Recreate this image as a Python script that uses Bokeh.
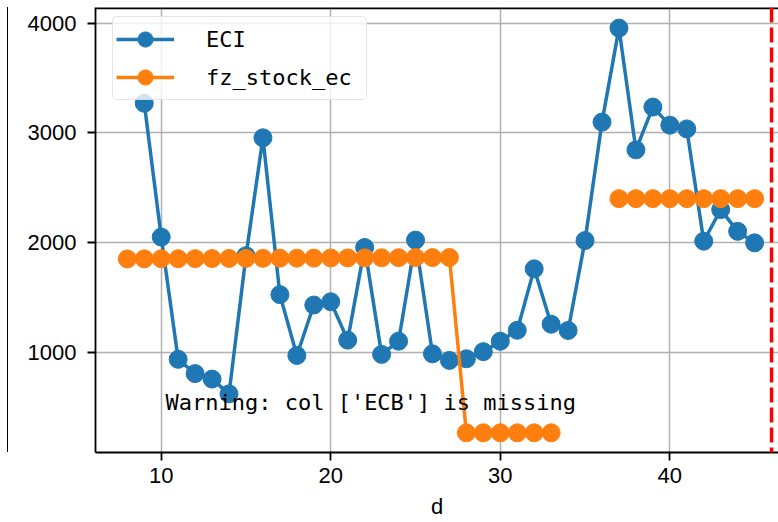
import math
from bokeh.plotting import figure
from bokeh.models import Span, Label, Div, FixedTicker, Legend
from bokeh.layouts import row
from bokeh.embed import file_html
from bokeh.resources import INLINE

# ---- data ----
eci_d = list(range(9, 46))
eci_vals = [3270, 2050, 935, 805, 755, 620, 1880, 2955, 1525, 970,
            1430, 1460, 1110, 1955, 980, 1100, 2022, 985, 925, 940,
            1005, 1100, 1200, 1760, 1255, 1198, 2018, 3098, 3955, 2845,
            3235, 3070, 3036, 2012, 2300, 2102, 1997]
fz_d = list(range(8, 46))
fz_vals = [1850, 1851, 1852, 1852, 1853, 1854, 1855, 1855, 1856, 1857,
           1857, 1858, 1859, 1860, 1860, 1861, 1862, 1863, 1863, 1864,
           265, 265, 265, 265, 265, 265,
           float("nan"), float("nan"), float("nan"),
           2400, 2400, 2400, 2400, 2400, 2400, 2400, 2400, 2400]
x_ticks = [10, 20, 30, 40]
y_ticks = [1000, 2000, 3000, 4000]
red_line_d = 46
warning_text = "Warning: col ['ECB'] is missing"
warning_pos = (10.25, 545)

BLUE = "#1f77b4"
ORANGE = "#ff7f0e"
MONO = "DejaVu Sans Mono"
SANS = "Liberation Sans"

Y_END = 4143

p = figure(width=770, height=522, output_backend="svg", toolbar_location=None,
           x_range=(6.124, 46.41), y_range=(85.4, Y_END),
           min_border_left=87, min_border_right=0, min_border_top=7,
           min_border_bottom=70)
p.outline_line_color = None
p.background_fill_color = "white"
p.border_fill_color = "white"

# grid
for g in (p.xgrid, p.ygrid):
    g.grid_line_color = "#b0b0b0"
    g.grid_line_width = 1.5

# axes
p.xaxis.ticker = FixedTicker(ticks=x_ticks)
p.yaxis.ticker = FixedTicker(ticks=y_ticks)
for ax in (p.xaxis, p.yaxis):
    ax.axis_line_color = "black"
    ax.axis_line_width = 1.8
    ax.major_tick_line_color = "black"
    ax.major_tick_line_width = 1.8
    ax.major_tick_out = 8
    ax.major_tick_in = 0
    ax.minor_tick_line_color = None
    ax.major_label_text_font = SANS
    ax.major_label_text_font_size = "22px"
    ax.major_label_text_color = "black"
p.xaxis.major_label_standoff = 7
p.yaxis.major_label_standoff = 11
p.xaxis.axis_label = "d"
p.xaxis.axis_label_text_font = SANS
p.xaxis.axis_label_text_font_size = "22px"
p.xaxis.axis_label_text_font_style = "normal"
p.xaxis.axis_label_text_color = "black"
p.xaxis.axis_label_standoff = 8

# top spine
p.add_layout(Span(location=Y_END, dimension="width", line_color="black", line_width=3.6))

# series
l1 = p.line(eci_d, eci_vals, line_color=BLUE, line_width=3.5)
s1 = p.scatter(eci_d, eci_vals, size=18, fill_color=BLUE, line_color=BLUE)
l2 = p.line(fz_d, fz_vals, line_color=ORANGE, line_width=3.5)
s2 = p.scatter(fz_d, fz_vals, size=18, fill_color=ORANGE, line_color=ORANGE)

# red dashed vertical line
p.add_layout(Span(location=red_line_d, dimension="height", line_color="red",
                  line_width=3.5, line_dash="15 5"))

# warning text
p.add_layout(Label(x=warning_pos[0], y=warning_pos[1], text=warning_text,
                   text_font=MONO, text_font_size="22px", text_color="black",
                   text_baseline="alphabetic"))

legend = Legend(items=[("ECI", [l1, s1]), ("fz_stock_ec", [l2, s2])],
                location=(17, 352))
legend.margin = 0
legend.padding = 3
legend.spacing = 0
legend.glyph_width = 58
legend.glyph_height = 38
legend.label_height = 24
legend.label_width = 157
legend.label_standoff = 32
legend.label_text_font = MONO
legend.label_text_font_size = "22px"
legend.label_text_color = "black"
legend.label_text_baseline = "middle"
legend.border_line_color = "#cccccc"
legend.border_line_width = 1.5
legend.border_radius = 5
legend.background_fill_alpha = 0.8
p.add_layout(legend)

left_stub = Div(text="", width=2, height=445, margin=(7, 0, 0, 6),
                styles={"border-right": "1.8px solid black", "box-sizing": "border-box"})

layout = row(left_stub, p)

open("out.html", "w").write(file_html(layout, INLINE))
